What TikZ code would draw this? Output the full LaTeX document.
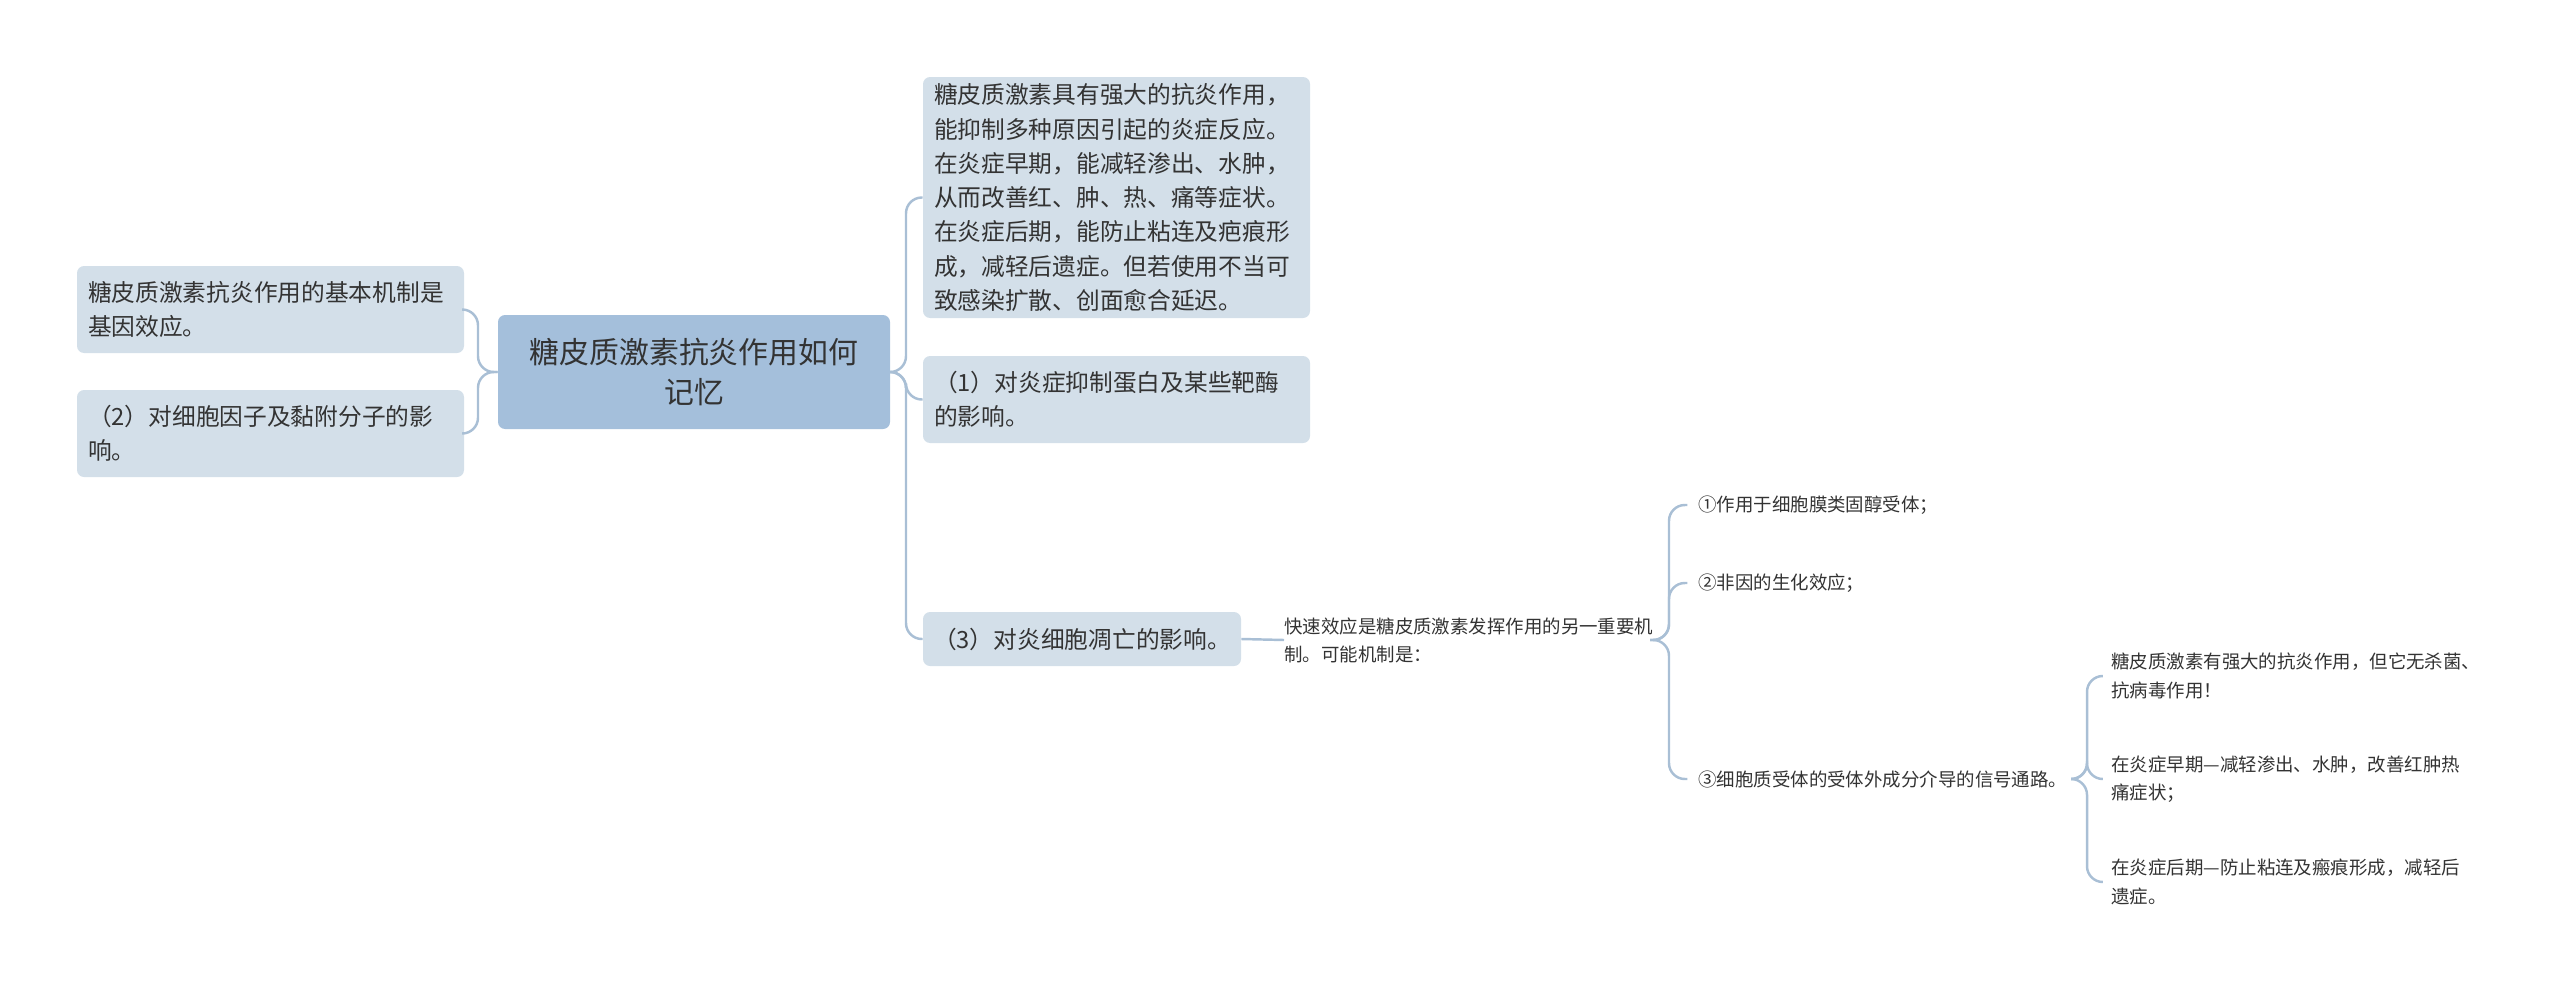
\documentclass[tikz,border=0pt]{standalone}
\usepackage{fontspec}
\setmainfont{Noto Sans CJK SC}
\begin{document}
\begin{tikzpicture}[x=0.02cm,y=-0.02cm,
  box/.style={fill=boxc,rounded corners=4pt,inner sep=0pt,align=left,text=txt,font=\fontsize{13.5}{19.5}\selectfont},
  rootbox/.style={fill=rootc,rounded corners=4pt,inner sep=0pt,align=center,text=txt,font=\fontsize{17}{23}\selectfont},
  plain/.style={inner sep=0pt,align=left,text=txt,font=\fontsize{10.5}{16}\selectfont,anchor=west},
  conn/.style={draw=linec,line width=1.4pt,rounded corners=9pt}]
\definecolor{boxc}{HTML}{D3DFE9}
\definecolor{rootc}{HTML}{A4BFDB}
\definecolor{linec}{HTML}{A9BFD5}
\definecolor{txt}{HTML}{333333}
\useasboundingbox (0,0) rectangle (2560,991);
\node[rootbox,minimum width=392*0.02cm,minimum height=114*0.02cm] (root) at (694,372) {糖皮质激素抗炎作用如何\\记忆};
\node[box,minimum width=387*0.02cm,minimum height=87*0.02cm,text width=365*0.02cm] (l1) at (270.5,309.5) {糖皮质激素抗炎作用的基本机制是\\基因效应。};
\node[box,minimum width=387*0.02cm,minimum height=87*0.02cm,text width=365*0.02cm] (l2) at (270.5,433.5) {（2）对细胞因子及黏附分子的影\\响。};
\node[box,minimum width=387*0.02cm,minimum height=241*0.02cm,text width=365*0.02cm] (r1) at (1116.5,197.5) {糖皮质激素具有强大的抗炎作用，\\能抑制多种原因引起的炎症反应。\\在炎症早期，能减轻渗出、水肿，\\从而改善红、肿、热、痛等症状。\\在炎症后期，能防止粘连及疤痕形\\成，减轻后遗症。但若使用不当可\\致感染扩散、创面愈合延迟。};
\node[box,minimum width=387*0.02cm,minimum height=87*0.02cm,text width=365*0.02cm] (r2) at (1116.5,399.5) {（1）对炎症抑制蛋白及某些靶酶\\的影响。};
\node[box,minimum width=318*0.02cm,minimum height=54*0.02cm] (r3) at (1082,639) {（3）对炎细胞凋亡的影响。};
\node[plain] (f) at (1284,640) {快速效应是糖皮质激素发挥作用的另一重要机\\制。可能机制是：};
\node[plain] (c1) at (1698,505) {①作用于细胞膜类固醇受体；};
\node[plain] (c2) at (1698,583) {②非因的生化效应；};
\node[plain] (c3) at (1698,779) {③细胞质受体的受体外成分介导的信号通路。};
\node[plain] (g1) at (2111,676) {糖皮质激素有强大的抗炎作用，但它无杀菌、\\抗病毒作用！};
\node[plain] (g2) at (2111,779) {在炎症早期—减轻渗出、水肿，改善红肿热\\痛症状；};
\node[plain] (g3) at (2111,882) {在炎症后期—防止粘连及瘢痕形成，减轻后\\遗症。};
\foreach \c in {r1,r2,r3} \draw[conn] (root.east) -- (906,372) |- (\c.west);
\foreach \c in {l1,l2} \draw[conn] (root.west) -- (478,372) |- (\c.east);
\draw[conn] (r3.east) -- (f.west);
\foreach \c in {c1,c2,c3} \draw[conn] (1650,640) -- (1669,640) |- ([xshift=-6pt]\c.west);
\foreach \c in {g1,g2,g3} \draw[conn] ([xshift=6pt]c3.east) -- (2087,779) |- ([xshift=-6pt]\c.west);
\end{tikzpicture}
\end{document}
